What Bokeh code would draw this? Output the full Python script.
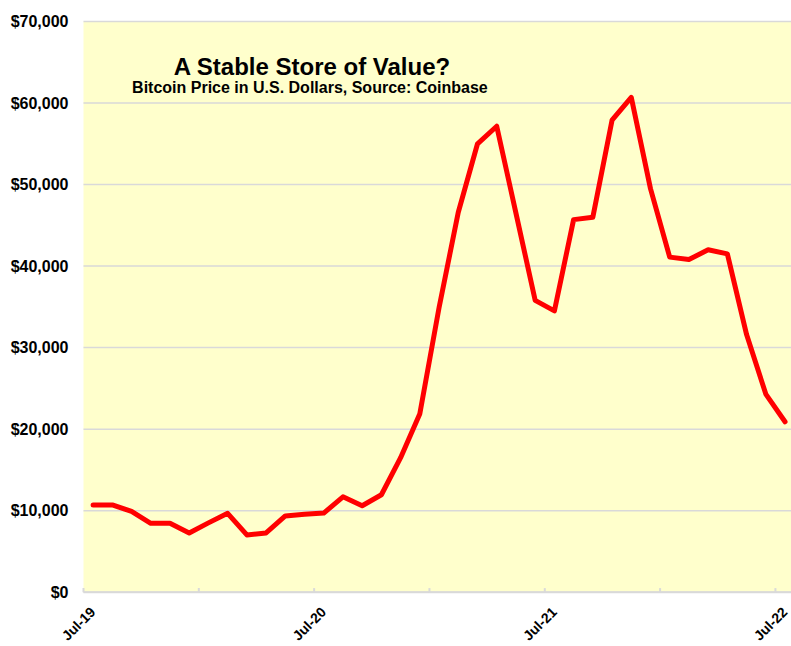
from bokeh.plotting import figure
from bokeh.models import Label, Range1d, BoxAnnotation
from bokeh.embed import file_html
from bokeh.resources import INLINE

months = ["Jul-19", "Aug-19", "Sep-19", "Oct-19", "Nov-19", "Dec-19",
          "Jan-20", "Feb-20", "Mar-20", "Apr-20", "May-20", "Jun-20",
          "Jul-20", "Aug-20", "Sep-20", "Oct-20", "Nov-20", "Dec-20",
          "Jan-21", "Feb-21", "Mar-21", "Apr-21", "May-21", "Jun-21",
          "Jul-21", "Aug-21", "Sep-21", "Oct-21", "Nov-21", "Dec-21",
          "Jan-22", "Feb-22", "Mar-22", "Apr-22", "May-22", "Jun-22",
          "Jul-22"]
price = [10700, 10700, 9900, 8450, 8450, 7270,
         8500, 9670, 7020, 7270, 9350, 9550,
         9700, 11700, 10600, 11950, 16500, 21900,
         34900, 46600, 55000, 57150, 46500, 35800,
         34500, 45700, 46000, 57900, 60700, 49500,
         41100, 40800, 42000, 41500, 31600, 24300,
         20900]
y_ticks = [0, 10000, 20000, 30000, 40000, 50000, 60000, 70000]
x_tick_pos = [0, 6, 12, 18, 24, 30, 36]
x_label_idx = [0, 12, 24, 36]
title_text = "A Stable Store of Value?"
subtitle_text = "Bitcoin Price in U.S. Dollars, Source: Coinbase"

x = [i + 0.5 for i in range(len(months))]

FONT = "Liberation Sans"
Y_MIN, Y_MAX = 0, 70000
X_MIN = 0
# visible window: the plot area starts at data x=0 / y=0; margins for labels
X_START, X_END = -4.318, 36.837
Y_START, Y_END = -6662, 72576

p = figure(width=791, height=646, output_backend="svg", toolbar_location=None,
           x_range=Range1d(X_START, X_END), y_range=Range1d(Y_START, Y_END),
           min_border_left=0, min_border_right=0, min_border_top=0,
           min_border_bottom=0)
p.background_fill_color = "white"
p.border_fill_color = "white"
p.outline_line_color = None
p.xaxis.visible = False
p.yaxis.visible = False
p.xgrid.visible = False
p.ygrid.visible = False

# yellow plot area
p.add_layout(BoxAnnotation(left=X_MIN, bottom=Y_MIN, top=Y_MAX,
                           fill_color="#FFFFCC", fill_alpha=1.0,
                           line_color=None, level="image"))

# horizontal gridlines (plot area only)
n = len(y_ticks)
p.segment(x0=[X_MIN] * n, y0=y_ticks, x1=[X_END] * n, y1=y_ticks,
          line_color="#d9d9d9", line_width=1.5)
# x axis line and inside tick marks
p.segment(x0=[X_MIN], y0=[Y_MIN], x1=[X_END], y1=[Y_MIN],
          line_color="#d9d9d9", line_width=2)
m = len(x_tick_pos)
p.segment(x0=x_tick_pos, y0=[Y_MIN] * m, x1=x_tick_pos,
          y1=[Y_MIN + 500] * m, line_color="#d9d9d9", line_width=2)

p.line(x, price, line_color="#FF0000", line_width=5,
       line_join="round", line_cap="round")

# y tick labels
for v in y_ticks:
    p.add_layout(Label(x=-0.78, y=v, text="${:,}".format(v),
                       text_align="right", text_baseline="middle",
                       text_font=FONT, text_font_style="bold",
                       text_font_size="16px", text_color="black"))

# rotated month labels below the axis
for i in x_label_idx:
    p.add_layout(Label(x=i + 0.78, y=-2800, text=months[i], angle=0.785398,
                       text_align="right", text_baseline="bottom",
                       text_font=FONT, text_font_style="bold",
                       text_font_size="14px", text_color="black"))

p.add_layout(Label(x=11.91, y=64540, text=title_text, text_align="center",
                   text_baseline="alphabetic", text_font=FONT,
                   text_font_style="bold", text_font_size="24px",
                   text_color="black"))
p.add_layout(Label(x=11.78, y=61890, text=subtitle_text, text_align="center",
                   text_baseline="alphabetic", text_font=FONT,
                   text_font_style="bold", text_font_size="16px",
                   text_color="black"))

open("out.html", "w").write(file_html(p, INLINE))
